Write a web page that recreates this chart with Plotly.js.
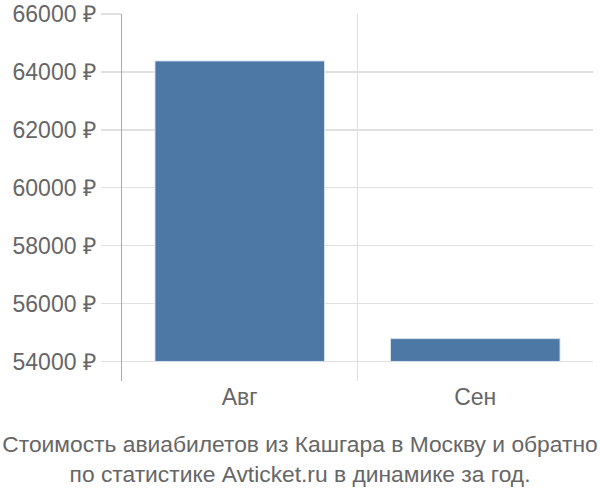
<!DOCTYPE html>
<html>
<head>
<meta charset="utf-8">
<script src="https://cdn.plot.ly/plotly-3.0.1.min.js"></script>
<style>
  html, body { margin: 0; padding: 0; background: #fff; }
  #chart { width: 600px; height: 500px; }
</style>
</head>
<body>
<div id="chart"></div>
<script>
let months = ['Авг', 'Сен'];
let prices = [64380, 54790];
let baseline = 54000;
let titleLines = [
  'Стоимость авиабилетов из Кашгара в Москву и обратно',
  'по статистике Avticket.ru в динамике за год.'
];

let trace = {
  type: 'bar',
  x: months,
  y: prices.map(function(p) { return p - baseline; }),
  base: prices.map(function() { return baseline; }),
  width: 0.72,
  marker: {
    color: 'rgb(77,120,166)',
    line: { color: 'rgba(220,230,240,0.9)', width: 1 }
  },
  hoverinfo: 'none'
};

let layout = {
  width: 600,
  height: 500,
  margin: { l: 122, r: 7, t: 14, b: 119 },
  paper_bgcolor: '#fff',
  plot_bgcolor: '#fff',
  font: { family: 'Liberation Sans, Arial, sans-serif', color: '#666', size: 20 },
  showlegend: false,
  title: {
    text: titleLines.join('<br>'),
    font: { size: 22.8, color: '#666' },
    x: 0.5,
    xref: 'container',
    xanchor: 'center',
    y: 0.096,
    yref: 'container',
    yanchor: 'middle'
  },
  xaxis: {
    type: 'category',
    range: [-0.5, 1.5],
    tickson: 'boundaries',
    showgrid: true,
    gridcolor: '#e0e0e0',
    gridwidth: 1.5,
    ticks: '',
    zeroline: false,
    showline: false,
    tickfont: { size: 23, color: '#666' }
  },
  yaxis: {
    range: [53326, 66000],
    dtick: 2000,
    tick0: 54000,
    tickformat: 'd',
    ticksuffix: ' ₽',
    showgrid: true,
    gridcolor: '#e0e0e0',
    gridwidth: 1.5,
    ticks: 'outside',
    ticklen: 20,
    tickcolor: '#e0e0e0',
    tickwidth: 1.5,
    showline: true,
    linecolor: '#aaa',
    linewidth: 1.5,
    zeroline: false,
    tickfont: { size: 23, color: '#666' }
  }
};

Plotly.newPlot('chart', [trace], layout, {
  displayModeBar: false,
  staticPlot: true
});
</script>
</body>
</html>
